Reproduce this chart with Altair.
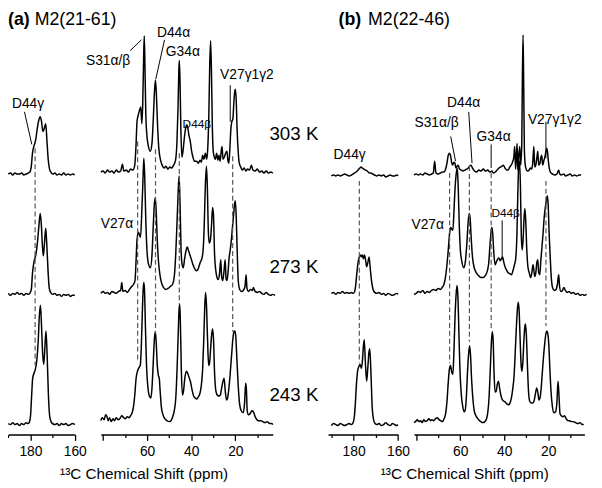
import altair as alt
import pandas as pd

FONT = "Liberation Sans"

# ---------------- spectra: (ppm, intensity above baseline) ----------------
# panel (a) M2(21-61), carbonyl region
A303_CO = [(190,1),(189,2),(188,0),(187,2),(186,1),(185,1),(184,2),(183,0),(182,1),(181,2),(180.3,3),(179.6,9),(179.1,22),(178.6,28),(178.2,31),(177.6,36),(177.0,46),(176.3,55),(175.6,59),(175.0,54),(174.4,44),(173.8,47),(173.1,52),(172.6,36),(172.0,16),(171.4,6),(170.8,3),(170,1),(169,2),(168,0),(167,1),(166,0),(165,2),(164,0),(163,1),(162,0),(161,1),(160,0)]
A273_CO = [(190,2),(189,0),(188,2),(187,1),(186,3),(185,1),(184,2),(183,0),(182,2),(181,1),(180.3,2),(179.6,6),(179.1,22),(178.7,30),(178.2,36),(177.5,42),(176.8,55),(176.2,70),(175.6,83),(175.1,72),(174.6,50),(174.2,40),(173.7,52),(173.1,68),(172.6,50),(172.0,22),(171.5,7),(170.9,3),(170,1),(169,2),(168,0),(167,1),(166,-1),(165,1),(164,0),(163,1),(162,-1),(161,0),(160,0)]
A243_CO = [(190,1),(189,0),(188,2),(187,0),(186,1),(185,-1),(184,1),(183,0),(182,2),(181.2,1),(180.6,2),(180.0,8),(179.5,28),(179.0,47),(178.4,52),(177.8,56),(177.2,64),(176.5,85),(176.0,110),(175.5,121),(175.0,100),(174.5,72),(174.0,61),(173.5,78),(173.0,95),(172.5,72),(171.9,30),(171.3,8),(170.7,3),(170,1),(169,0),(168,1),(167,-1),(166,1),(165,0),(164,1),(163,-1),(162,0),(161,1),(160,0)]

# panel (a), aliphatic region
A303_AL = [(81.0,1),(80.0,2),(79.0,0),(78.0,3),(77.0,1),(76.0,2),(75.0,0),(74.0,3),(73.0,1),(72.0,2),(71.2,9),(70.6,2),(69.5,3),(68.5,1),(67.5,4),(66.5,3),(65.6,8),(65.0,30),(64.6,52),(64.0,59),(63.4,64),(62.9,67),(62.4,50),(62.0,70),(61.6,115),(61.3,139),(61.0,110),(60.6,60),(60.1,38),(59.5,28),(58.6,22),(57.8,30),(57.2,55),(56.6,85),(56.2,94),(55.8,80),(55.3,50),(54.7,25),(54.0,14),(53.2,8),(52.3,5),(51.5,7),(50.6,4),(49.7,6),(48.8,5),(48.0,8),(47.2,12),(46.5,30),(46.0,65),(45.6,105),(45.4,114),(45.1,95),(44.7,45),(44.2,16),(43.6,25),(43.0,38),(42.4,47),(42.0,49),(41.5,45),(41.0,38),(40.5,33),(39.8,22),(39.2,16),(38.5,12),(37.6,12),(36.8,10),(36.0,13),(35.4,11),(34.8,18),(34.2,14),(33.6,20),(33.0,14),(32.5,25),(32.0,60),(31.6,110),(31.2,134),(30.8,100),(30.4,45),(30.0,22),(29.5,16),(29.0,14),(28.5,20),(27.9,13),(27.4,18),(26.9,12),(26.3,24),(26.0,27),(25.6,14),(25.0,16),(24.4,20),(23.8,22),(23.3,12),(22.9,10),(22.4,28),(22.0,45),(21.6,52),(21.1,55),(20.7,70),(20.3,82),(20.0,85),(19.6,75),(19.2,45),(18.7,22),(18.2,10),(17.5,6),(16.8,3),(16.0,5),(15.2,2),(14.4,4),(13.5,3),(12.7,8),(12.0,3),(11.0,2),(10.0,4),(9.0,1),(8.0,2),(7.0,0),(6.0,2),(5.0,0),(4.0,1),(3.0,0)]
A273_AL = [(81.0,1),(80.0,3),(79.0,1),(78.0,2),(77.0,0),(76.0,3),(75.0,2),(74.0,1),(73.0,3),(72.0,4),(71.5,12),(71.0,3),(70.0,4),(69.0,2),(68.0,5),(67.0,8),(66.2,10),(65.5,14),(65.0,35),(64.6,55),(64.0,63),(63.4,60),(63.0,58),(62.4,85),(61.9,115),(61.5,138),(61.1,120),(60.6,75),(60.0,42),(59.3,30),(58.5,27),(57.8,40),(57.2,70),(56.7,92),(56.3,98),(55.9,85),(55.4,55),(54.8,32),(54.2,20),(53.5,12),(52.6,7),(51.5,5),(50.5,6),(49.5,8),(48.5,10),(47.6,20),(47.0,42),(46.4,75),(45.9,105),(45.5,120),(45.1,95),(44.6,45),(44.1,30),(43.6,27),(43.0,36),(42.3,45),(41.8,48),(41.3,45),(40.6,40),(40.0,36),(39.2,30),(38.6,27),(37.8,24),(37.0,25),(36.4,29),(35.8,33),(35.2,36),(34.6,45),(34.1,70),(33.6,110),(33.1,130),(32.7,110),(32.2,62),(31.8,52),(31.3,55),(30.8,70),(30.3,88),(29.9,80),(29.4,40),(28.9,25),(28.4,18),(27.8,15),(27.2,20),(26.6,35),(26.2,18),(25.7,14),(25.2,22),(24.6,35),(24.2,16),(23.8,14),(23.3,22),(22.9,35),(22.3,45),(21.8,55),(21.3,68),(20.8,80),(20.3,92),(20.0,95),(19.6,80),(19.1,40),(18.6,12),(18.0,5),(17.2,3),(16.4,4),(15.6,8),(15.1,20),(14.7,6),(14.0,3),(13.0,5),(12.2,4),(11.8,7),(11.0,3),(10.0,2),(9.0,3),(8.0,1),(7.0,0),(6.0,2),(5.0,0),(4.0,-1),(3.0,0),(2.0,-1)]
A243_AL = [(81.0,2),(80.4,5),(79.5,3),(78.8,8),(78.2,6),(77.6,2),(77.0,5),(76.3,1),(75.5,4),(74.8,2),(74.0,5),(73.2,3),(72.4,4),(71.5,7),(70.6,5),(69.8,4),(69.0,6),(68.2,5),(67.5,7),(66.8,10),(66.2,16),(65.6,28),(65.0,45),(64.4,52),(63.6,56),(63.1,58),(62.6,80),(62.2,110),(61.8,135),(61.5,142),(61.2,135),(60.8,100),(60.3,60),(59.6,35),(58.8,26),(58.3,25),(57.8,35),(57.2,62),(56.7,85),(56.3,92),(55.9,82),(55.4,58),(54.9,48),(54.5,45),(54.1,32),(53.5,15),(52.8,8),(52.0,4),(51.0,2),(50.0,1),(49.2,2),(48.4,6),(47.7,12),(47.0,25),(46.4,55),(45.9,90),(45.5,115),(45.2,120),(44.9,100),(44.5,55),(44.0,28),(43.5,32),(42.9,45),(42.2,52),(41.6,50),(41.0,46),(40.4,42),(39.6,33),(38.9,27),(38.2,25),(37.5,24),(36.8,26),(36.0,30),(35.4,38),(34.8,55),(34.3,85),(33.9,115),(33.5,132),(33.1,120),(32.6,85),(32.1,58),(31.7,60),(31.2,75),(30.7,90),(30.3,95),(29.9,85),(29.4,50),(28.8,32),(28.2,28),(27.5,27),(26.8,28),(26.2,35),(25.6,42),(25.1,45),(24.6,33),(24.0,23),(23.5,25),(22.9,35),(22.3,50),(21.7,68),(21.1,85),(20.6,92),(20.2,93),(19.8,88),(19.3,65),(18.7,38),(18.0,18),(17.3,12),(16.4,10),(15.8,20),(15.3,40),(15.0,35),(14.6,12),(14.0,8),(13.3,9),(12.5,12),(11.8,11),(11.0,6),(10.2,3),(9.5,2),(8.5,2),(7.5,1),(6.5,0),(5.5,1),(4.5,-1),(3.5,-1),(3.0,-2)]

# panel (b) M2(22-46), carbonyl region
B303_CO = [(190,0),(189,1),(188,0),(187,1),(186,0),(185,1),(184,2),(183,1),(182,0),(181,1),(180.3,2),(179.6,3),(178.8,4),(178.0,6),(177.2,8),(176.6,9),(176.0,8),(175.3,7),(174.6,6),(173.8,5),(173.0,3),(172.2,3),(171.4,2),(170.5,1),(169.5,0),(168.5,1),(167.5,0),(166.5,1),(165.5,-1),(164.5,0),(163.5,1),(162.5,0),(161.5,0),(160.5,1),(160,0)]
B273_CO = [(190,1),(189,2),(188,0),(187,2),(186,1),(185,3),(184,1),(183,2),(182,1),(181,2),(180.2,1),(179.5,3),(179.0,10),(178.5,22),(178.0,32),(177.4,38),(176.9,40),(176.5,38),(176.0,40),(175.6,36),(175.1,40),(174.6,35),(174.1,28),(173.5,33),(173.0,38),(172.4,24),(171.8,12),(171.2,5),(170.5,2),(169.5,1),(168.5,2),(167.5,0),(166.5,1),(165.5,-1),(164.5,1),(163.5,0),(162.5,-1),(161.5,0),(160.5,1),(160,0)]
B243_CO = [(190,0),(189,2),(188,1),(187,0),(186,2),(185,1),(184,0),(183,1),(182,2),(181.0,1),(180.2,3),(179.6,10),(179.2,22),(178.7,42),(178.2,55),(177.6,60),(177.0,62),(176.5,58),(176.0,66),(175.6,80),(175.2,87),(174.7,65),(174.1,45),(173.6,58),(173.1,74),(172.7,78),(172.2,55),(171.6,18),(171.0,6),(170.3,2),(169.5,1),(168.5,2),(167.5,0),(166.5,1),(165.5,3),(164.5,1),(163.5,0),(162.5,2),(161.5,1),(160.5,0),(160,1)]

# panel (b), aliphatic region
B303_AL = [(81.0,0),(80.0,1),(79.0,0),(78.0,1),(77.0,0),(76.0,2),(75.0,1),(74.0,0),(73.0,1),(72.2,2),(71.6,14),(71.0,2),(70.0,1),(69.0,2),(68.0,3),(67.3,3),(66.6,6),(66.0,12),(65.5,19),(64.9,22),(64.4,20),(63.8,12),(63.4,10),(62.9,13),(62.4,12),(61.9,7),(61.4,9),(60.9,10),(60.3,6),(59.5,5),(58.6,4),(57.8,5),(57.0,6),(56.3,7),(55.7,9),(55.1,10),(54.4,7),(53.5,4),(52.5,3),(51.5,5),(50.5,4),(49.5,6),(48.5,4),(47.5,5),(46.5,3),(45.6,4),(44.8,2),(44.0,3),(43.2,5),(42.4,7),(41.7,8),(41.0,9),(40.4,10),(39.6,7),(38.8,5),(38.2,5),(37.5,8),(36.8,10),(36.2,13),(35.6,18),(35.2,29),(34.8,6),(34.4,20),(34.1,32),(33.8,5),(33.4,18),(32.9,29),(32.5,10),(32.0,30),(31.7,100),(31.4,142),(31.1,90),(30.8,25),(30.4,10),(29.8,5),(29.2,4),(28.6,5),(28.0,7),(27.5,6),(27.0,12),(26.5,29),(26.1,8),(25.6,10),(25.1,18),(24.7,24),(24.3,10),(23.7,12),(23.3,18),(22.9,20),(22.5,10),(21.9,15),(21.4,19),(21.0,24),(20.6,27),(20.2,22),(19.8,12),(19.3,5),(18.7,2),(18.0,1),(17.0,0),(16.0,1),(15.2,5),(14.7,1),(14.0,0),(13.0,1),(12.0,-1),(11.0,0),(10.0,1),(9.0,-1),(8.0,0),(7.0,-1),(6.0,0),(5.0,0)]
B273_AL = [(81.0,0),(80.0,1),(79.0,3),(78.0,2),(77.0,4),(76.0,1),(75.0,3),(74.0,2),(73.0,4),(72.0,5),(71.0,4),(70.0,6),(69.0,5),(68.2,7),(67.4,10),(66.7,17),(66.0,30),(65.4,45),(64.8,62),(64.3,68),(63.8,66),(63.3,65),(62.8,85),(62.3,108),(61.8,122),(61.3,128),(60.9,110),(60.4,70),(59.9,45),(59.2,33),(58.4,27),(57.7,32),(57.0,50),(56.4,72),(55.9,82),(55.5,78),(55.0,58),(54.4,38),(53.6,27),(52.7,22),(51.6,19),(50.5,17),(49.5,17),(48.6,19),(47.6,24),(47.0,32),(46.5,48),(46.0,62),(45.6,68),(45.2,62),(44.7,42),(44.1,30),(43.5,33),(42.9,36),(42.4,37),(41.8,34),(41.3,36),(40.7,38),(40.2,33),(39.6,28),(39.0,25),(38.2,22),(37.4,21),(36.6,20),(36.0,24),(35.3,30),(34.8,35),(34.2,60),(33.8,100),(33.4,130),(33.0,135),(32.6,110),(32.2,60),(31.8,45),(31.4,55),(31.0,75),(30.6,87),(30.2,75),(29.7,45),(29.2,28),(28.6,22),(27.9,17),(27.4,22),(26.9,30),(26.5,25),(26.1,18),(25.6,22),(25.1,33),(24.7,35),(24.3,22),(23.8,20),(23.3,35),(22.8,48),(22.3,62),(21.8,78),(21.3,88),(20.8,95),(20.4,100),(20.0,92),(19.6,65),(19.1,40),(18.6,18),(18.0,7),(17.2,4),(16.4,5),(15.8,10),(15.2,20),(14.8,8),(14.2,3),(13.5,4),(12.8,7),(12.2,4),(11.3,2),(10.5,3),(9.5,1),(8.5,2),(7.5,0),(6.5,1),(5.5,-1),(4.5,0),(3.5,-1),(2.5,0)]
B243_AL = [(81.0,1),(80.3,2),(79.5,4),(78.8,2),(78.0,3),(77.3,1),(76.5,4),(75.8,2),(75.0,3),(74.2,5),(73.5,3),(72.8,4),(72.0,3),(71.2,5),(70.4,6),(69.6,4),(68.8,3),(68.0,2),(67.3,5),(66.6,10),(66.0,22),(65.4,42),(64.9,55),(64.4,59),(63.8,52),(63.3,50),(62.8,75),(62.3,110),(61.8,132),(61.4,140),(61.0,128),(60.6,95),(60.1,55),(59.5,30),(58.8,17),(58.1,12),(57.6,15),(57.1,30),(56.6,55),(56.1,72),(55.7,79),(55.3,70),(54.8,45),(54.2,25),(53.5,12),(52.6,7),(51.6,4),(50.6,2),(49.7,1),(48.8,2),(48.0,5),(47.4,12),(46.9,25),(46.3,55),(45.8,82),(45.4,93),(45.0,85),(44.6,52),(44.1,32),(43.6,33),(43.1,40),(42.6,43),(42.2,38),(41.6,30),(41.0,25),(40.3,23),(39.6,22),(38.8,20),(38.0,19),(37.3,21),(36.7,26),(36.1,35),(35.5,48),(35.0,70),(34.5,95),(34.0,115),(33.6,123),(33.2,115),(32.8,90),(32.3,60),(31.9,53),(31.5,62),(31.0,85),(30.6,98),(30.3,101),(29.9,90),(29.4,58),(28.9,32),(28.4,23),(27.7,21),(27.0,21),(26.4,23),(25.8,30),(25.2,36),(24.7,32),(24.2,24),(23.7,26),(23.2,35),(22.7,50),(22.2,65),(21.6,80),(21.1,90),(20.6,94),(20.2,92),(19.7,80),(19.2,55),(18.7,33),(18.1,18),(17.4,11),(16.6,12),(16.0,22),(15.5,43),(15.1,30),(14.6,10),(14.0,8),(13.2,7),(12.6,8),(11.8,5),(11.0,3),(10.2,3),(9.4,2),(8.6,2),(7.5,1),(6.5,0),(5.5,1),(4.5,-1),(3.8,-1)]

TEMPS = ["303 K", "273 K", "243 K"]
# baseline of each trace (in the shared intensity axis)
BASE_A_CO = [263, 141, 10]
BASE_A_AL = [265, 142, 12]
BASE_B_CO = [262, 142, 9]
BASE_B_AL = [263, 142, 11]

# dashed guide lines: (ppm, top, bottom)
GUIDE_A_CO = [(177.9, 290, 70)]
GUIDE_A_AL = [(64.3, 297, 75), (56.2, 289, 102), (45.4, 285, 132), (21.2, 282, 104)]
GUIDE_B_CO = [(177.4, 257, 72)]
GUIDE_B_AL = [(64.8, 265, 72), (55.8, 272, 94), (45.9, 265, 107), (21.0, 257, 110)]

# label leader lines: (ppm1, y1, ppm2, y2)
LEAD_A_CO = [(182.7, 327, 179.4, 294)]
LEAD_A_AL = [(67.7, 389, 62.6, 400), (52.1, 400, 56.1, 360), (22.3, 354, 22.3, 317)]
LEAD_B_CO = []
LEAD_B_AL = [(64.3, 302, 62.1, 277), (56.1, 327, 54.6, 275), (45.9, 294, 45.9, 270),
             (21.0, 317, 21.0, 280), (40.9, 217, 40.9, 177)]

CO_MAJOR = [180, 160]
CO_MINOR = [190, 170]
AL_MAJOR = [80, 60, 40, 20]
AL_MINOR = [70, 50, 30, 10]

YS = alt.Scale(domain=[0, 429], nice=False, zero=False)


def make_axis(ticks, major):
    if major:
        return alt.Axis(orient="bottom", values=ticks, title=None, grid=False,
                        labelExpr="datum.value === 80 ? '' : datum.label",
                        domainColor="black", domainWidth=1.5, tickColor="black", tickWidth=1.3,
                        tickSize=6, labelFontSize=14, labelFont=FONT, labelColor="black",
                        labelFlush=False, labelOverlap=False, labelPadding=4)
    return alt.Axis(orient="bottom", values=ticks, title=None, grid=False, labels=False,
                    domain=False, tickColor="black", tickWidth=1.3, tickSize=3)


def group(spectra, bases, guides, leads, dom, rng, major):
    rows = []
    for sid, (spec, base) in enumerate(zip(spectra, bases)):
        for i, (p, v) in enumerate(spec):
            rows.append({"ppm": p, "y": base + v, "sid": TEMPS[sid], "i": i})
    df = pd.DataFrame(rows)
    xs = alt.Scale(domain=dom, range=rng, nice=False, zero=False)
    ax = make_axis(major, True)
    layers = [alt.Chart(df).mark_line(color="black", strokeWidth=1.5, interpolate="monotone",
                                      strokeJoin="round").encode(
        x=alt.X("ppm:Q", scale=xs, axis=ax), y=alt.Y("y:Q", scale=YS, axis=None),
        detail="sid:N", order=alt.Order("i:Q"))]
    gdf = pd.DataFrame([{"ppm": p, "y1": a, "y2": b} for p, a, b in guides])
    layers.append(alt.Chart(gdf).mark_rule(color="#555555", strokeDash=[5, 3], strokeWidth=1.2).encode(
        x=alt.X("ppm:Q", scale=xs, axis=ax), y=alt.Y("y1:Q", scale=YS, axis=None), y2="y2:Q"))
    if leads:
        ldf = pd.DataFrame([{"ppm": a, "y1": b, "x2": c, "y2": d} for a, b, c, d in leads])
        layers.append(alt.Chart(ldf).mark_rule(color="black", strokeWidth=1).encode(
            x=alt.X("ppm:Q", scale=xs, axis=ax), x2="x2:Q",
            y=alt.Y("y1:Q", scale=YS, axis=None), y2="y2:Q"))
    return alt.layer(*layers)


def minor_ticks(dom, rng, minor):
    xs = alt.Scale(domain=dom, range=rng, nice=False, zero=False)
    mdf = pd.DataFrame({"ppm": [dom[0]]})
    return alt.Chart(mdf).mark_point(opacity=0).encode(
        x=alt.X("ppm:Q", scale=xs, axis=make_axis(minor, False)),
        y=alt.Y("ppm:Q", scale=YS, axis=None))


DOM_A_CO, RNG_A_CO = [190, 160], [0.3, 67.7]
DOM_A_AL, RNG_A_AL = [81, 3], [94.1, 268.4]
DOM_B_CO, RNG_B_CO = [191.5, 160], [324.4, 395.3]
DOM_B_AL, RNG_B_AL = [81, 3.5], [411.5, 584.3]

gA_co = group([A303_CO, A273_CO, A243_CO], BASE_A_CO, GUIDE_A_CO, LEAD_A_CO, DOM_A_CO, RNG_A_CO, CO_MAJOR)
gA_al = group([A303_AL, A273_AL, A243_AL], BASE_A_AL, GUIDE_A_AL, LEAD_A_AL, DOM_A_AL, RNG_A_AL, AL_MAJOR)
gB_co = group([B303_CO, B273_CO, B243_CO], BASE_B_CO, GUIDE_B_CO, LEAD_B_CO, DOM_B_CO, RNG_B_CO, CO_MAJOR)
gB_al = group([B303_AL, B273_AL, B243_AL], BASE_B_AL, GUIDE_B_AL, LEAD_B_AL, DOM_B_AL, RNG_B_AL, AL_MAJOR)
minors = [minor_ticks(DOM_A_CO, RNG_A_CO, CO_MINOR), minor_ticks(DOM_A_AL, RNG_A_AL, AL_MINOR),
          minor_ticks(DOM_B_CO, RNG_B_CO, CO_MINOR), minor_ticks(DOM_B_AL, RNG_B_AL, AL_MINOR)]

# texts: (text, x, y, size, weight, align)
TEXTS = [
    ("(a)", 0, 9, 18, "bold", "left"),
    ("M2(21-61)", 27, 9, 18, "normal", "left"),
    ("D44γ", 4, 94, 14, "normal", "left"),
    ("S31α/β", 79, 51, 14, "normal", "left"),
    ("D44α", 151, 22, 14, "normal", "left"),
    ("G34α", 160, 41, 14, "normal", "left"),
    ("V27γ1γ2", 215, 65, 14, "normal", "left"),
    ("D44β", 177, 114, 12, "normal", "left"),
    ("V27α", 94, 216, 14, "normal", "left"),
    ("303 K", 265, 125, 19, "normal", "left"),
    ("273 K", 265, 259, 19, "normal", "left"),
    ("243 K", 265, 389, 19, "normal", "left"),
    ("¹³C Chemical Shift (ppm)", 138, 469, 15.5, "normal", "center"),
    ("(b)", 335, 9, 18, "bold", "left"),
    ("M2(22-46)", 365, 9, 18, "normal", "left"),
    ("D44γ", 330, 146, 14, "normal", "left"),
    ("S31α/β", 412, 113, 14, "normal", "left"),
    ("D44α", 445, 93, 14, "normal", "left"),
    ("G34α", 475, 128, 14, "normal", "left"),
    ("V27γ1γ2", 527, 110, 14, "normal", "left"),
    ("D44β", 490, 205, 12, "normal", "left"),
    ("V27α", 409, 217, 14, "normal", "left"),
    ("¹³C Chemical Shift (ppm)", 463, 469, 15.5, "normal", "center"),
]

DUMMY = pd.DataFrame({"d": [0]})
text_layers = [
    alt.Chart(DUMMY).mark_text(text=t, fontSize=s, fontWeight=w, align=a, baseline="middle",
                               font=FONT, color="black").encode(x=alt.value(x), y=alt.value(y))
    for t, x, y, s, w, a in TEXTS
]

chart = alt.layer(gA_co, gA_al, gB_co, gB_al, *minors, *text_layers).resolve_scale(
    x="independent").resolve_axis(x="independent").properties(
    width=586, height=429,
    autosize=alt.AutoSizeParams(type="none"),
    padding={"left": 0, "top": 0, "right": 8, "bottom": 51},
    background="white",
).configure_view(stroke=None)

chart.save("out.html", embed_options={"renderer": "svg", "actions": False})
